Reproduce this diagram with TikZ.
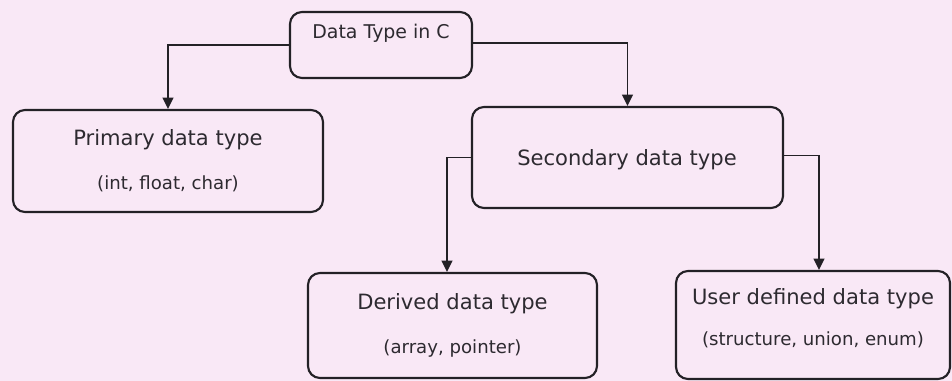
\documentclass[tikz,border=0pt]{standalone}
\usepackage{fontspec}
\setmainfont{DejaVu Sans}
\usetikzlibrary{arrows.meta}
\definecolor{bgpink}{RGB}{249,232,246}
\definecolor{inkline}{RGB}{35,33,38}
\definecolor{inktext}{RGB}{45,42,48}
\tikzset{
  box/.style={draw=inkline, line width=1.6pt, rounded corners=9pt, inner sep=0pt, align=center, text=inktext},
  conn/.style={draw=inkline, line width=1.4pt, -{Triangle[width=8pt,length=8.5pt]}},
  big/.style={font=\fontsize{15.8pt}{18pt}\selectfont},
  lbl/.style={text=inktext, align=center, inner sep=0pt},
}
\newcommand{\subtxt}[1]{{\fontsize{13.6pt}{16pt}\selectfont #1}}
\begin{document}
\begin{tikzpicture}[x=0.75pt,y=-0.75pt]
\fill[bgpink] (0,0) rectangle (952,381);
\useasboundingbox (0,0) rectangle (952,381);
% boxes
\node[box, minimum width=136.5pt, minimum height=49.5pt] (root) at (381,45) {};
\node[lbl, font=\fontsize{14.2pt}{17pt}\selectfont] (roottxt) at (381,33) {Data Type in C};
\node[box, big, minimum width=232.5pt, minimum height=76.5pt] (primary) at (168,161)
  {Primary data type\\[15pt]\subtxt{(int, float, char)}};
\node[box, minimum width=233.25pt, minimum height=75.75pt] (secondary) at (627.5,157.5) {};
\node[lbl, big] (sectxt) at (627,160) {Secondary data type};
\node[box, big, minimum width=216.75pt, minimum height=78.75pt] (derived) at (452.5,325.5)
  {Derived data type\\[15pt]\subtxt{(array, pointer)}};
\node[box, minimum width=205.5pt, minimum height=81pt] (user) at (813,325) {};
\node[lbl, big] (usertxt) at (813,318.5)
  {User defined data type\\[13pt]\subtxt{(structure, union, enum)}};
% connector bends
\coordinate (dl) at (447,0);
\coordinate (ur) at (819,0);
% connectors
\draw[conn] (root.west) -| (primary.north);
\draw[conn] ([yshift=1.5pt]root.east) -| (secondary.north);
\draw[conn] (secondary.west) -| (dl |- derived.north);
\draw[conn] ([yshift=1.5pt]secondary.east) -| (ur |- user.north);
\end{tikzpicture}
\end{document}
